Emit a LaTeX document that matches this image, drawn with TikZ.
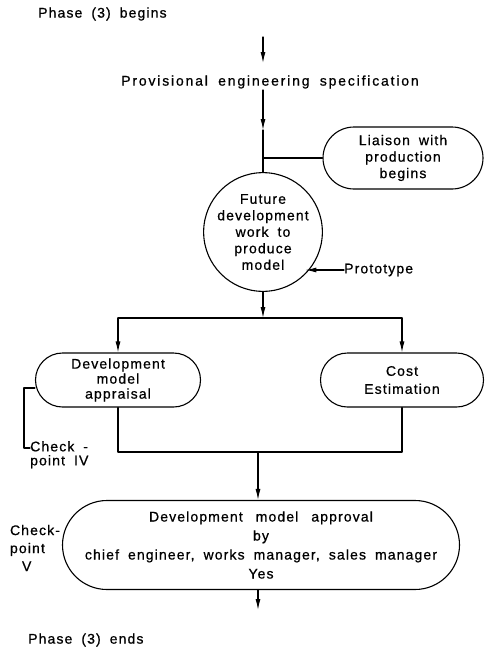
\documentclass[tikz,border=0pt]{standalone}
\usepackage{fontspec}
\setmainfont{Liberation Sans}[LetterSpace=8,WordSpace=1.8,FakeBold=0.7]
\newfontfamily\widefont{Liberation Sans}[LetterSpace=13,WordSpace=1.8,FakeBold=0.7]
\usetikzlibrary{arrows.meta,positioning,shapes.misc}

\tikzset{
  every node/.style={font=\fontsize{14}{16.5}\selectfont,inner sep=0pt},
  line/.style={draw=black,line width=1.1pt},
  arr/.style={line,-{Latex[length=11pt,width=5pt]}},
  pill/.style={rounded rectangle,draw=black,line width=1.1pt,align=center,inner sep=0pt},
  disc/.style={circle,draw=black,line width=1.1pt,align=center,inner sep=0pt},
}

\begin{document}
\begin{tikzpicture}[x=1pt,y=-1pt,line cap=round,line join=round]
\path[fill=white] (0,0) rectangle (486,648);
\useasboundingbox (0,0) rectangle (486,648);

% phase (3) nodes
\node[anchor=west] (beg) at (38,14) {Phase (3) begins};
\node[font=\widefont\fontsize{14}{16.5}\selectfont] (spec) at (270,82) {Provisional engineering specification};
\node[disc,minimum size=108pt] (fut) at (263,232) {Future\\development\\work to\\produce\\model};
\node[pill,minimum width=160pt,minimum height=62pt] (lia) at (403,158) {Liaison with\\production\\begins};
\node[anchor=west] (proto) at (344,270) {Prototype};
\node[pill,minimum width=165pt,minimum height=54pt,font=\fontsize{14}{15}\selectfont] (dev) at (118,380) {Development\\model\\appraisal};
\node[pill,minimum width=163pt,minimum height=54pt,font=\fontsize{14}{18}\selectfont] (cost) at (402,380) {Cost\\Estimation};
\node[anchor=north west,align=left,font=\fontsize{14}{14}\selectfont] (cp4) at (30,441) {Check -\\point IV};
\node[pill,minimum width=397pt,minimum height=89pt,font=\fontsize{14}{19}\selectfont] (app) at (261,545) {Development\hspace{4pt} model\hspace{4pt} approval\\by\\chief engineer, works manager, sales manager\\Yes};
\node[align=left,font=\fontsize{14}{18}\selectfont] (cp5) at (35,548) {Check-\\point\\\hspace{12pt}V};
\node[anchor=west] (end) at (28,640) {Phase (3) ends};

% free ends
\coordinate (in) at (263,37);
\coordinate (in2) at (263,63);
\coordinate (s1) at (263,90);
\coordinate (s2) at (263,130);
\coordinate (split) at (263,318);
\coordinate (join) at (258,452);
\coordinate (out) at (258,610);

% connectors
\draw[arr] (in) -- (in2);
\draw[arr] (s1) -- (s2);
\draw[line] (s2) -- (fut.north);
\draw[line] (lia.west) -- (lia.west -| fut.north);
\draw[arr] (proto.west) -- (fut.-45 |- proto.west);
\draw[arr] (fut.south) -- (split);
\draw[line] (dev.north |- split) -- (cost.north |- split);
\draw[arr] (dev.north |- split) -- (dev.north);
\draw[arr] (cost.north |- split) -- (cost.north);
\draw[line] (dev.south) |- (join) -| (cost.south);
\draw[arr] (join) -- (join |- app.north);
\draw[line] ([yshift=-8pt]dev.west) -- ++(-11,0) |- ([yshift=-7pt]cp4.north west);
\draw[arr] (join |- app.south) -- (out);
\end{tikzpicture}
\end{document}
